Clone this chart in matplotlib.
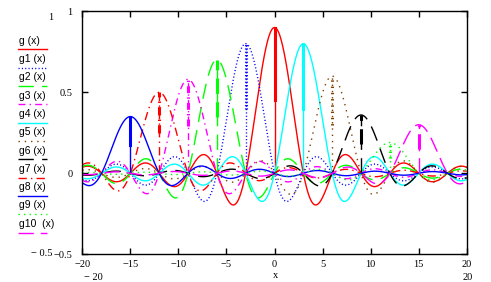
import numpy as np
import matplotlib.pyplot as plt
from matplotlib.lines import Line2D

plt.rcParams["lines.scale_dashes"] = False

# trace names, centres and peak heights
nomes = ["g (x)", "g1 (x)", "g2 (x)", "g3 (x)", "g4 (x)", "g5 (x)",
         "g6 (x)", "g7 (x)", "g8 (x)", "g9 (x)", "g10  (x)"]
centros = [0, -3, -6, -9, 3, 6, 9, -12, -15, 12, 15]
picos = [0.9, 0.8, 0.7, 0.58, 0.8, 0.6, 0.36, 0.5, 0.35, 0.19, 0.3]
largura = 3.0  # distance between zero crossings

cores = ["#ff0000", "#0000ff", "#00ff00", "#ff00ff", "#00ffff", "#804000",
         "#000000", "#ff0000", "#0000ff", "#00ff00", "#ff00ff"]
# dash patterns in points (None = solid)
tracos = [None, (0.8, 1.6), (11, 6), (5, 3, 1, 3), None, (1, 3.5),
          (11, 6), (6, 3, 1, 3), None, (1, 3), (11, 5)]

x_ticks = [-20, -15, -10, -5, 0, 5, 10, 15, 20]
x_labels = ["\u221220", "\u221215", "\u221210", "\u22125", "0", "5", "10", "15", "20"]
y_ticks = [-0.5, 0, 0.5, 1]
y_labels = ["\u22120.5", "0", "0.5", "1"]

W, H = 491, 282
fig = plt.figure(figsize=(W / 100, H / 100), dpi=100)
ax = fig.add_axes([82.3 / W, 1 - 254.3 / H, (466.7 - 82.3) / W, (254.3 - 11.3) / H])

x = np.linspace(-20, 20, 1601)
for c, a, cor, tr in zip(centros, picos, cores, tracos):
    y = a * np.sinc((x - c) / largura)
    kw = dict(color=cor, lw=1)
    if tr is not None:
        kw["dashes"] = tr
    ax.plot(x, y, **kw)
    # spike at the centre sample, thicker in the upper half
    ax.plot([c, c], [0, a], **kw)
    kw["lw"] = 2.2
    ax.plot([c, c], [a / 2, a], **kw)

ax.set_xlim(-20, 20)
ax.set_ylim(-0.5, 1)
ax.set_xticks(x_ticks)
ax.set_xticklabels(x_labels)
ax.set_yticks(y_ticks)
ax.set_yticklabels(y_labels)
ax.tick_params(direction="in", length=4.3, width=1, top=True, right=True,
               labelsize=7.5, pad=4)
ax.tick_params(axis="y", pad=7)
for lab in ax.get_xticklabels() + ax.get_yticklabels():
    lab.set_family("Liberation Serif")
for s in ax.spines.values():
    s.set_linewidth(1)

fonte = dict(family="Liberation Serif", fontsize=7.5)
fig.text(276 / W, 1 - 276 / H, "x", ha="center", va="center", **fonte)
fig.text(93 / W, 1 - 277 / H, "\u2212 20", ha="center", va="center", **fonte)
fig.text(468 / W, 1 - 277 / H, "20", ha="center", va="center", **fonte)
fig.text(51 / W, 1 - 17.7 / H, "1", ha="center", va="center", **fonte)
fig.text(42 / W, 1 - 253 / H, "\u2212 0.5", ha="center", va="center", **fonte)

# Mathcad style trace list on the left
for i, (nome, cor, tr) in enumerate(zip(nomes, cores, tracos)):
    yl = 40.7 + i * 18.3
    fig.text(19 / W, 1 - yl / H, nome, ha="left", va="center",
             family="Liberation Sans", fontsize=7.5)
    kw = dict(color=cor, lw=1, transform=fig.transFigure)
    if tr is not None:
        kw["dashes"] = tr
    fig.add_artist(Line2D([18 / W, 47 / W], [1 - (yl + 8.8) / H] * 2, **kw))

fig.savefig("out.png", dpi=100)
